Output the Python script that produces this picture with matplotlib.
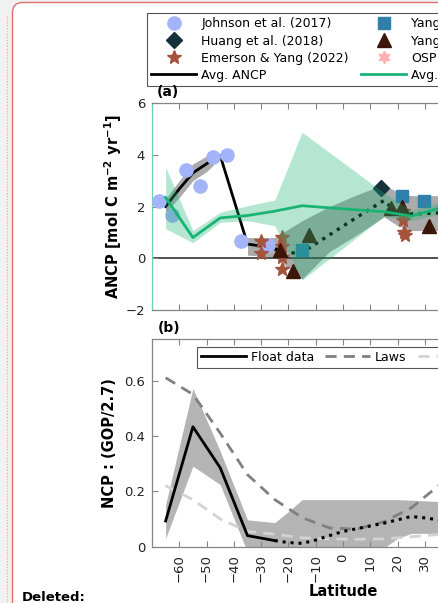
import numpy as np
import matplotlib.pyplot as plt
from matplotlib.patches import FancyBboxPatch
from matplotlib.lines import Line2D
from matplotlib.transforms import IdentityTransform

plt.rcParams['font.family'] = ['DejaVu Sans']
plt.rcParams['mathtext.default'] = 'bf'

# ---------------- panel (a) data: ANCP [mol C m-2 yr-1] ----------------
johnson_lat = [-67.5, -62.5, -57.5, -52.5, -47.5, -42.5, -37.5, -27.5]
johnson_val = [2.2, 1.68, 3.42, 2.8, 3.9, 4.0, 0.68, 0.52]

huang_lat = [13.8]
huang_val = [2.7]

emerson_lat = [-30, -30, -22.5, -22.5, -22.5, -22.5, 22, 22, 22.3, 22.6]
emerson_val = [0.68, 0.19, 0.81, 0.49, 0.04, -0.41, 1.82, 1.46, 1.0, 0.9]

yang_sq_lat = [-15.2, 21.8, 29.7]
yang_sq_val = [0.3, 2.42, 2.22]

yang_tri_lat = [-23.2, -18.2, -12.5, 17.5, 21.8, 31.5]
yang_tri_val = [0.31, -0.48, 0.88, 1.93, 2.0, 1.23]

osp_lat = []
osp_val = []

# float average (solid part, then dotted part)
anc_lat = [-65, -60, -55, -50, -47.5, -45, -35, -30, -25]
anc_val = [2.0, 2.68, 3.3, 3.65, 3.85, 3.97, 0.55, 0.47, 0.36]
anc_dot_lat = [-25, -20, -15, -5, 5, 15, 20, 25, 35]
anc_dot_val = [0.36, 0.2, 0.22, 0.9, 1.58, 2.23, 1.73, 1.71, 1.75]

# uncertainty bands of the average
band1_lat = [-65, -60, -55, -50, -47.5]
band1_lo = [1.78, 2.35, 3.0, 3.35, 3.6]
band1_hi = [2.3, 3.0, 3.65, 3.95, 4.05]
band2_lat = [-35, -25, -15, -5, 5, 15, 20, 25, 35]
band2_lo = [0.12, 0.05, -0.8, 0.25, 0.9, 1.6, 1.26, 1.07, 1.07]
band2_hi = [0.8, 0.8, 1.45, 2.0, 2.45, 2.85, 2.55, 2.42, 2.42]

# model average and spread
mod_lat = [-65, -55, -45, -35, -25, -15, -5, 5, 15, 25, 35]
mod_val = [2.35, 0.8, 1.56, 1.65, 1.82, 2.03, 1.95, 1.87, 1.8, 1.63, 1.92]
mod_lo = [1.14, 0.6, 1.39, 1.45, 1.26, -0.84, -0.02, 0.8, 1.62, 1.45, 1.7]
mod_hi = [3.52, 1.07, 1.78, 2.03, 2.25, 4.87, 4.09, 3.31, 2.53, 1.85, 2.15]

# ---------------- panel (b) data: NCP ----------------
float_lat = [-65, -55, -45, -35, -25]
float_val = [0.093, 0.433, 0.285, 0.04, 0.022]
float_dot_lat = [-25, -20, -15, -10, -5, 0, 5, 10, 15, 20, 25, 30, 35]
float_dot_val = [0.022, 0.015, 0.012, 0.024, 0.04, 0.055, 0.065, 0.075, 0.085,
                 0.097, 0.109, 0.104, 0.097]
fband_lat = [-65, -55, -45, -35, -25, -20, -15, -5, 5, 15, 20, 25, 35]
fband_lo = [0.03, 0.291, 0.224, -0.02, -0.05, -0.05, -0.05, -0.05, -0.04,
            -0.005, 0.03, 0.048, 0.048]
fband_hi = [0.152, 0.572, 0.345, 0.097, 0.087, 0.127, 0.17, 0.17, 0.17,
            0.17, 0.17, 0.168, 0.163]

laws_lat = [-65, -55, -45, -35, -25, -15, -5, 5, 15, 25, 35]
laws_val = [0.61, 0.55, 0.41, 0.26, 0.17, 0.105, 0.068, 0.063, 0.09, 0.14, 0.22]
dunne_val = [0.22, 0.17, 0.1, 0.055, 0.045, 0.032, 0.028, 0.027, 0.028, 0.036, 0.044]

lat_ticks = list(range(-60, 70, 10))
lat_labels = [str(t) for t in lat_ticks]
lat_labels = [l.replace('-', '\u2212') for l in lat_labels]
a_ticks = [-2, 0, 2, 4, 6]
b_ticks = [0, 0.2, 0.4, 0.6]
b_labels = ['0', '0.2', '0.4', '0.6']

green = '#19b374'
grey_band = '#ababab'
spine_col = '#858585'

W, H = 438, 603
fig = plt.figure(figsize=(W / 100, H / 100), dpi=100, facecolor='#f1f1f1')

# document frame around the figure
frame = FancyBboxPatch((12.5, -60), 600, H - 2.5 + 60,
                       boxstyle='round,pad=0,rounding_size=10',
                       facecolor='white', edgecolor='#e07070', lw=1.0,
                       transform=IdentityTransform(), zorder=-10)
fig.add_artist(frame)
fig.add_artist(Line2D([6.5, 6.5], [0, H - 14], ls=':', color='#e8a0a0', lw=0.8,
                      transform=IdentityTransform(), zorder=-9))
fig.text(22 / W, 1 - 591 / H, 'Deleted:', fontsize=9.5, fontweight='bold',
         va='top', ha='left')

ax1 = fig.add_axes([152 / W, 1 - 310 / H, 382 / W, 207 / H])
ax2 = fig.add_axes([152 / W, 1 - 546.7 / H, 382 / W, 207.7 / H])

# ---- panel (a)
ax1.axhline(0, color='#333333', lw=1.2, zorder=1.5)
ax1.fill_between(band1_lat, band1_lo, band1_hi, color=grey_band, lw=0, zorder=1)
ax1.fill_between(band2_lat, band2_lo, band2_hi, color=grey_band, lw=0, zorder=1)
ax1.plot(anc_lat, anc_val, color='black', lw=2, zorder=2)
ax1.plot(anc_dot_lat, anc_dot_val, color='black', lw=2.4, ls=(0, (1, 1.6)), zorder=2)

h_j, = ax1.plot(johnson_lat, johnson_val, 'o', ms=9.5, color='#a4b4fb', zorder=3)
h_h, = ax1.plot(huang_lat, huang_val, 'D', ms=8, color='#17313b', zorder=3)
h_e, = ax1.plot(emerson_lat, emerson_val, '*', ms=10.5, color='#a4533d', zorder=3)
h_s, = ax1.plot(yang_sq_lat, yang_sq_val, 's', ms=8, color='#2f80aa', zorder=3)
h_t, = ax1.plot(yang_tri_lat, yang_tri_val, '^', ms=9.5, color='#3c1609', zorder=3)
h_o, = ax1.plot(osp_lat, osp_val, marker=(6, 1, 0), ls='none', ms=9,
                color='#ffb0b0', zorder=3)

ax1.fill_between(mod_lat, mod_lo, mod_hi, color=green, alpha=0.32, lw=0, zorder=4)
h_g, = ax1.plot(mod_lat, mod_val, color=green, lw=2, zorder=5)
h_k = Line2D([], [], color='black', lw=2)

ax1.set_xlim(-70, 70)
ax1.set_ylim(-2, 6)
ax1.set_xticks(lat_ticks)
ax1.set_yticks(a_ticks)
ax1.tick_params(axis='x', labelbottom=False)
ax1.set_ylabel(r'ANCP [mol C m$^{-2}$ yr$^{-1}$]', fontsize=10.5, fontweight='bold')
ax1.yaxis.set_label_coords(-0.074, 0.5)

handles = [h_j, h_h, h_e, h_k, h_s, h_t, h_o, h_g]
labels = ['Johnson et al. (2017)', 'Huang et al. (2018)', 'Emerson & Yang (2022)',
          'Avg. ANCP', 'Yang et al. (2017)', 'Yang et al. (2021)', 'OSP', 'Avg. model']
leg1 = ax1.legend(handles, labels, ncol=2, loc='upper left',
                  bbox_to_anchor=(147 / W, 1 - 13 / H), bbox_transform=fig.transFigure,
                  borderaxespad=0, fontsize=9, handlelength=3.6, handletextpad=0.4,
                  columnspacing=1.0, labelspacing=0.33, borderpad=0.35,
                  fancybox=False, edgecolor='#555555', framealpha=1, numpoints=1)
leg1.get_frame().set_linewidth(0.8)

# ---- panel (b)
ax2.fill_between(fband_lat, fband_lo, fband_hi, color='#b4b4b4', lw=0, zorder=1)
h_f, = ax2.plot(float_lat, float_val, color='black', lw=2, zorder=3)
ax2.plot(float_dot_lat, float_dot_val, color='black', lw=2.2, ls=(0, (1, 1.6)), zorder=3)
h_l, = ax2.plot(laws_lat, laws_val, color='#808080', lw=2, dashes=(4, 2.6), zorder=2)
h_d, = ax2.plot(laws_lat, dunne_val, color='#d3d3d3', lw=2, dashes=(4, 2.6), zorder=2)

ax2.set_xlim(-70, 70)
ax2.set_ylim(0, 0.75)
ax2.set_xticks(lat_ticks)
ax2.set_xticklabels(lat_labels, rotation=90)
ax2.set_yticks(b_ticks)
ax2.set_yticklabels(b_labels)
ax2.set_xlabel('Latitude', fontsize=10.5, fontweight='bold', labelpad=2)
ax2.set_ylabel('NCP : (GOP/2.7)', fontsize=10.5, fontweight='bold')
ax2.yaxis.set_label_coords(-0.092, 0.5)
leg2 = ax2.legend([h_f, h_l, h_d], ['Float data', 'Laws', 'Dunne'], ncol=3,
                  loc='upper left', bbox_to_anchor=(197 / W, 1 - 347 / H),
                  bbox_transform=fig.transFigure, borderaxespad=0, fontsize=9,
                  handlelength=3.6, handletextpad=0.4, columnspacing=0.9,
                  borderpad=0.3, fancybox=False, edgecolor='#555555', framealpha=1)
leg2.get_frame().set_linewidth(0.8)

for ax in (ax1, ax2):
    ax.tick_params(direction='in', length=4, width=0.8, color=spine_col,
                   labelcolor='#222222', labelsize=9.5, top=True, right=True, pad=5)
    for s in ax.spines.values():
        s.set_color(spine_col)
        s.set_linewidth(0.9)
ax1.spines['left'].set_color('#6fd0a8')

fig.text(157 / W, 1 - 92 / H, '(a)', fontsize=10, fontweight='bold', va='center')
fig.text(158 / W, 1 - 328 / H, '(b)', fontsize=10, fontweight='bold', va='center')

fig.savefig('out.png', dpi=100, facecolor=fig.get_facecolor())
